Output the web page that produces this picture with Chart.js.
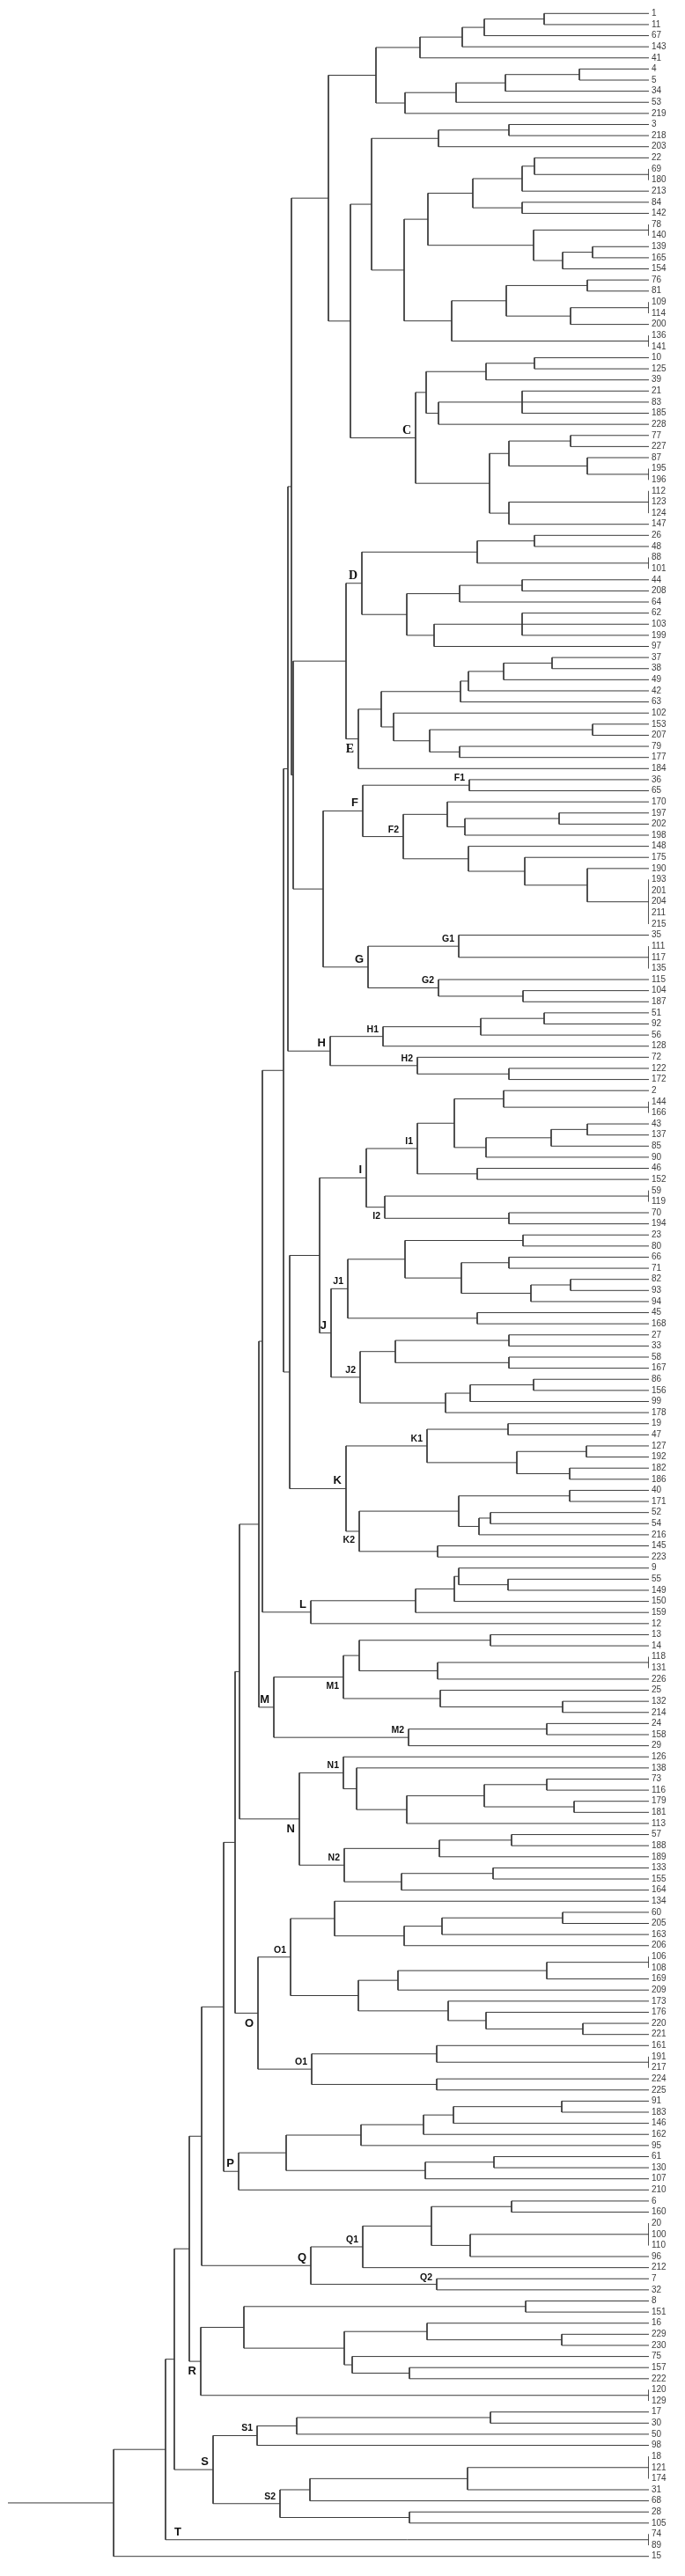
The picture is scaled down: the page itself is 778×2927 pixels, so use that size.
<!DOCTYPE html>
<html>
<head>
<meta charset="utf-8">
<title>Dendrogram</title>
<script src="https://cdn.jsdelivr.net/npm/chart.js@4.4.0/dist/chart.umd.min.js"></script>
<style>
  html, body { margin: 0; padding: 0; background: #fff; }
  #wrap { position: relative; width: 778px; height: 2927px; }
</style>
</head>
<body>
<div id="wrap"><canvas id="tree"></canvas></div>
<script>
// Clusters as Newick strings: "(a,b)Label:level", level = fusion level of that node
const groupA = '(((((1,11):11.9,67):18.7,143):21.2,41):26.0,((((4,5):7.9,34):16.3,53):21.9,219):27.7):31.0';
const groupB = '(((3,218):15.9,203):23.9,(((((22,(69,180):0):13.0,213):14.4,(84,142):14.4):20.0,((78,140):0,((139,165):6.4,154):9.8):13.1):25.1,(((76,81):7.0,((109,114):0,200):8.9):16.2,(136,141):0):22.4):27.8):31.5';
const clusterC = '((((10,125):13.0,39):18.5,((21,83,185):14.4,228):23.9):25.3,(((77,227):8.9,(87,(195,196):0):7.0):15.9,((112,123,124):0,147):15.9):18.1)C:26.5';
const clusterD = '(((26,48):13.0,(88,101):0):19.5,(((44,208):14.4,64):21.5,((62,103,199):14.4,97):24.4):27.5)D:32.6';
const clusterE = '((((((37,38):11.0,49):16.5,42):20.5,63):21.4,(102,((153,207):6.4,(79,177):21.5):24.9):29.0):30.4,184)E:33.0';
const clusterF = '((36,65)F1:20.4,((170,((197,202):10.2,198):20.9):22.9,(148,(175,(190,(193,201,204,211,215):0):7.0):14.1):20.5)F2:27.9)F:32.5';
const clusterG = '((35,(111,117,135):0)G1:21.6,(115,(104,187):14.3)G2:23.9)G:31.9';
const clusterH = '((((51,92):11.9,56):19.1,128)H1:30.2,(72,(122,172):15.9)H2:26.3)H:36.2';
const clusterI = '((((2,(144,166):0):16.5,(((43,137):7.0,85):11.1,90):18.5):22.1,(46,152):19.5)I1:26.3,((59,119):0,(70,194):15.9)I2:30.0)I:32.1';
const clusterJ = '((((23,80):14.3,((66,71):15.9,((82,93):8.9,94):13.4):21.3):27.7,(45,168):19.5)J1:34.2,(((27,33):15.9,(58,167):15.9):28.8,(((86,156):13.1,99):20.3,178):23.1)J2:32.8)J:36.1';
const clusterK = '(((19,47):16.0,((127,192):7.1,(182,186):9.0):15.0)K1:25.2,(((40,171):9.0,((52,54):18.0,216):19.3):21.6,(145,223):24.0)K2:32.9)K:34.4';
const clusterL = '((((9,(55,149):16.0):21.6,150):22.1,159):26.5,12)L:38.4';
const clusterM = '((((13,14):18.0,((118,131):0,226):24.0):32.9,(25,(132,214):9.8):23.7)M1:34.7,((24,158):11.6,29)M2:27.3)M:42.6';
const clusterN = '((126,(138,(((73,116):11.6,(179,181):8.5):18.7,113):27.5):33.2)N1:34.7,(((57,188):15.6,189):23.8,((133,155):17.7,164):28.1)N2:34.6)N:39.7';
const clusterO = '(((134,(((60,205):9.8,163):23.5,206):27.8):35.7,((((106,108):0,169):11.6,209):28.5,(173,(176,(220,221):7.5):18.5):22.8):33.0)O1:40.7,((161,(191,217):0):24.1,(224,225):24.1)O1:38.3)O:44.4';
const clusterP = '((((((91,183):9.9,146):22.2,162):25.6,95):32.7,((61,130):17.6,107):25.4):41.2,210)P:46.6';
const clusterQ = '((((6,160):15.6,((20,100,110):0,96):20.3):24.7,212)Q1:32.5,(7,32)Q2:24.1)Q:38.4';
const clusterR = '(((8,151):14.0,((16,(229,230):9.9):25.2,(75,(157,222):27.2):33.7):34.6):46.0,(120,129):0)R:50.9';
const clusterS = '((((17,30):18.0,50):40.0,98)S1:44.5,((((18,121,174):0,31):20.6,68):38.5,(28,105):27.2)S2:41.9)S:49.5';
const clusterT = '(74,89)T:0';

// upper part of the backbone (groups A..K)
const upperBackbone = `((((${groupA},(${groupB},${clusterC}):33.9):36.4,((${clusterD},${clusterE}):34.4,(${clusterF},${clusterG}):37.0):40.4):40.6,${clusterH}):41.0,((${clusterI},${clusterJ}):37.4,${clusterK}):40.8):41.5`;

// lower part: each group joins everything above it at the given level
const lowerGroups = [clusterL, clusterM, clusterN, clusterO, clusterP, clusterQ, clusterR, clusterS, clusterT, '15'];
const lowerLevels = [43.9, 44.3, 46.5, 47.0, 48.3, 50.8, 52.2, 53.9, 54.9, 60.8];
const rootStubLevel = 72.8;

const labelsBelow = ['E', 'I2', 'K2', 'M1', 'N', 'O', 'R'];

// build whole tree
let treeNewick = upperBackbone;
lowerGroups.forEach((g, i) => { treeNewick = `(${treeNewick},${g}):${lowerLevels[i]}`; });

function parseNewick(str) {
  const s = str.replace(/\s+/g, '');
  let i = 0;
  function readName() {
    const st = i;
    while (i < s.length && /[A-Za-z0-9]/.test(s[i])) i++;
    return s.slice(st, i);
  }
  function readLevel() {
    if (s[i] !== ':') return 0;
    i++;
    const st = i;
    while (i < s.length && /[0-9.]/.test(s[i])) i++;
    return parseFloat(s.slice(st, i));
  }
  function node() {
    if (s[i] === '(') {
      i++;
      const children = [node()];
      while (s[i] === ',') { i++; children.push(node()); }
      if (s[i] !== ')') throw new Error('newick: expected ) at ' + i);
      i++;
      const label = readName();
      const level = readLevel();
      return { children, label, level };
    }
    const name = readName();
    return { children: [], name, level: readLevel() };
  }
  const root = node();
  if (i !== s.length) throw new Error('newick: trailing text at ' + i);
  return root;
}

const root = parseNewick(treeNewick);

// leaf order and node positions
const leafNames = [];
const labelled = [];
function place(n, parent) {
  n.parent = parent;
  if (!n.children.length) {
    n.y = leafNames.length;
    leafNames.push(n.name);
    return;
  }
  n.children.forEach(c => place(c, n));
  n.y = (n.children[0].y + n.children[n.children.length - 1].y) / 2;
  if (n.label) labelled.push(n);
}
place(root, null);

// elbow segments, separated by gaps
const lineData = [];
function gap() { return { x: NaN, y: NaN }; }
function collect(n) {
  if (!n.children.length) return;
  const first = n.children[0];
  const last = n.children[n.children.length - 1];
  lineData.push({ x: first.level, y: first.y }, { x: n.level, y: first.y },
                { x: n.level, y: last.y }, { x: last.level, y: last.y }, gap());
  n.children.slice(1, -1).forEach(c => {
    lineData.push({ x: c.level, y: c.y }, { x: n.level, y: c.y }, gap());
  });
  n.children.forEach(collect);
}
collect(root);
lineData.push({ x: root.level, y: root.y }, { x: rootStubLevel, y: root.y });

// cluster letters next to their nodes
const clusterLabelPlugin = {
  id: 'clusterLabels',
  afterDatasetsDraw(chart) {
    const { ctx } = chart;
    const xs = chart.scales.x, ys = chart.scales.y;
    ctx.save();
    ctx.fillStyle = '#111';
    labelled.forEach(n => {
      const single = n.label.length === 1;
      const serif = ['C', 'D', 'E'].includes(n.label);
      ctx.font = single
        ? (serif ? 'bold 14px "Liberation Serif"' : 'bold 13px "Liberation Sans"')
        : 'bold 10.5px "Liberation Sans"';
      const py = ys.getPixelForValue(n.y);
      let px;
      if (n.level === 0 && n.parent) {
        ctx.textAlign = 'left';
        px = xs.getPixelForValue(n.parent.level) + 10;
      } else {
        ctx.textAlign = 'right';
        px = xs.getPixelForValue(n.level) - 5;
      }
      if (labelsBelow.includes(n.label)) {
        ctx.textBaseline = 'top';
        ctx.fillText(n.label, px, py + 5);
      } else {
        ctx.textBaseline = 'alphabetic';
        ctx.fillText(n.label, px, py - 5);
      }
    });
    ctx.restore();
  }
};

new Chart(document.getElementById('tree'), {
  type: 'scatter',
  data: {
    datasets: [{
      data: lineData,
      showLine: true,
      borderColor: '#3a3a3a',
      borderWidth: 1,
      pointRadius: 0,
      pointHoverRadius: 0,
      spanGaps: false,
      tension: 0
    }]
  },
  options: {
    responsive: true,
    maintainAspectRatio: false,
    animation: false,
    devicePixelRatio: 1,
    events: [],
    layout: { padding: { left: 9, right: 0, top: 8, bottom: 16 } },
    plugins: { legend: { display: false }, tooltip: { enabled: false } },
    scales: {
      x: { type: 'linear', reverse: true, min: 0, max: rootStubLevel, display: false },
      y: {
        type: 'linear',
        position: 'right',
        reverse: true,
        min: -0.5,
        max: leafNames.length - 0.5,
        grid: { display: false, drawTicks: false },
        border: { display: false },
        afterBuildTicks: s => { s.ticks = leafNames.map((_, i) => ({ value: i })); },
        afterFit: s => { s.width = 41; },
        ticks: {
          autoSkip: false,
          padding: 3,
          color: '#3c3c3c',
          font: { family: 'Liberation Sans', size: 10 },
          callback: v => leafNames[v]
        }
      }
    }
  },
  plugins: [clusterLabelPlugin]
});
</script>
</body>
</html>
